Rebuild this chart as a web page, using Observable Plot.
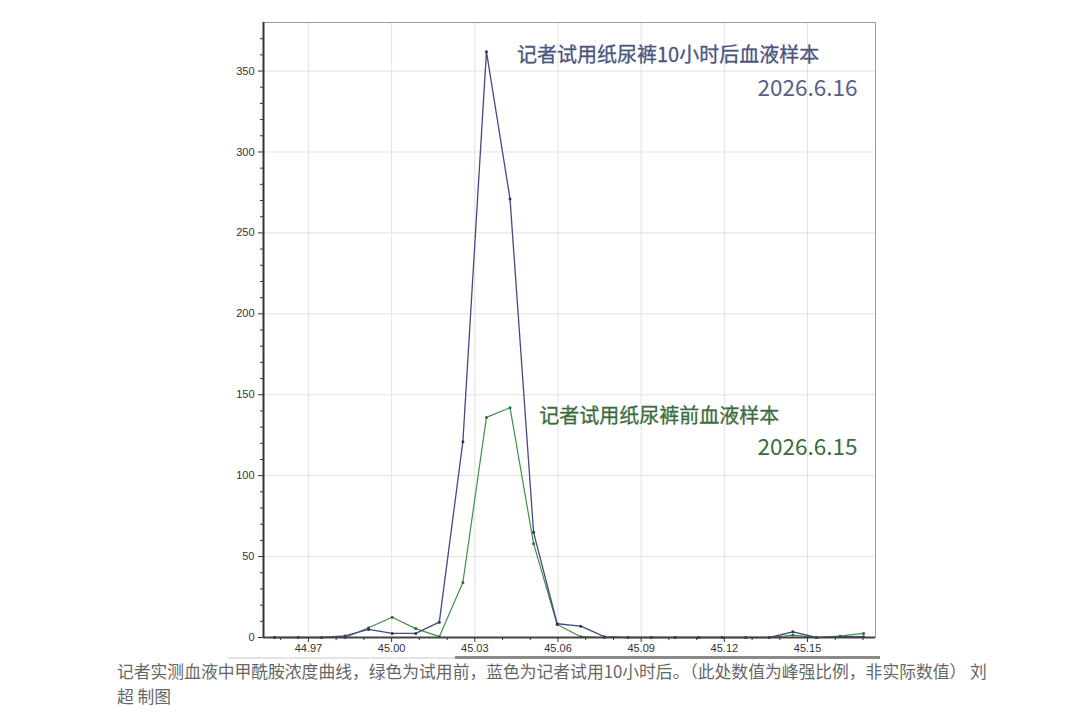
<!DOCTYPE html>
<html>
<head>
<meta charset="utf-8">
<script src="https://cdn.jsdelivr.net/npm/d3@7"></script>
<script src="https://cdn.jsdelivr.net/npm/@observablehq/plot@0.6"></script>
<style>
  html, body { margin: 0; padding: 0; background: #fff; }
  #wrap { position: relative; width: 1080px; height: 716px; overflow: hidden; }
  #chart { position: absolute; left: 0; top: 0; }
  #band { position: absolute; left: 228px; top: 657px; width: 652px; height: 2px; background: #e4e4e4; }
  #bar { position: absolute; left: 455px; top: 656px; width: 425px; height: 3px; background: #8a8a8a; }
  #caption { position: absolute; left: 117px; top: 659px; width: 930px;
    font-family: "Noto Sans CJK SC", "Noto Sans", sans-serif; font-size: 16.8px;
    line-height: 25px; color: #666; white-space: nowrap; }
</style>
</head>
<body>
<div id="wrap">
  <div id="chart"></div>
  <div id="band"></div>
  <div id="bar"></div>
  <div id="caption">记者实测血液中甲酰胺浓度曲线，绿色为试用前，蓝色为记者试用10小时后。（此处数值为峰强比例，非实际数值） 刘<br>超 制图</div>
</div>
<script>
// retention positions (scan points)
const scanX = [44.9578, 44.9663, 44.9748, 44.9832, 44.9917, 45.0002, 45.0087, 45.0172,
  45.0257, 45.0342, 45.0427, 45.0512, 45.0597, 45.0682, 45.0767, 45.0852, 45.0937,
  45.1022, 45.1107, 45.1192, 45.1277, 45.1362, 45.1447, 45.1532, 45.1617, 45.1702];
// after 10 hours (blue)
const afterVals = [0, 0, 0, 1, 5, 2.5, 2.5, 9.5, 121, 362, 271, 65, 8.5, 7, 0.5, 0, 0,
  0, 0, 0, 0, 0, 3.5, 0, 0.5, 0.5];
// before (green)
const beforeVals = [0, 0, 0, 0, 6, 12.5, 5.5, 0.5, 34, 136, 142, 58, 8, 0.5, 0, 0, 0,
  0, 0, 0, 0, 0, 1.5, 0, 0.8, 2.5];

const xMajor = [44.97, 45.00, 45.03, 45.06, 45.09, 45.12, 45.15];
const xMinor = [44.96, 44.98, 44.99, 45.01, 45.02, 45.04, 45.05, 45.07, 45.08, 45.10,
  45.11, 45.13, 45.14, 45.16, 45.17];
const yMajor = [0, 50, 100, 150, 200, 250, 300, 350];
const yMinor = [10, 20, 30, 40, 60, 70, 80, 90, 110, 120, 130, 140, 160, 170, 180, 190,
  210, 220, 230, 240, 260, 270, 280, 290, 310, 320, 330, 340, 360, 370];

const labelAfter = "记者试用纸尿裤10小时后血液样本";
const dateAfter = "2026.6.16";
const labelBefore = "记者试用纸尿裤前血液样本";
const dateBefore = "2026.6.15";

const xDomain = [44.9538, 45.1745];
const yDomain = [0, 380];

const after = scanX.map((x, i) => ({x, y: afterVals[i]}));
const before = scanX.map((x, i) => ({x, y: beforeVals[i]}));

const blue = "#434a84";
const green = "#3f9147";

const chart = Plot.plot({
  width: 1080,
  height: 657,
  marginLeft: 263,
  marginRight: 205,
  marginTop: 22,
  marginBottom: 20,
  x: {domain: xDomain},
  y: {domain: yDomain},
  style: {fontFamily: "'Liberation Sans', Arial, sans-serif", fontSize: "11px", color: "#333", background: "#fff"},
  marks: [
    Plot.gridX(xMajor, {stroke: "#e2e2e2", strokeOpacity: 1}),
    Plot.gridY(yMajor, {stroke: "#e2e2e2", strokeOpacity: 1}),
    Plot.frame({stroke: "#9a9a9a", strokeWidth: 1}),
    Plot.line(before, {x: "x", y: "y", stroke: green, strokeWidth: 1.2}),
    Plot.dot(before, {x: "x", y: "y", r: 1.5, fill: "#2c6b33", stroke: null}),
    Plot.line(after, {x: "x", y: "y", stroke: blue, strokeWidth: 1.3}),
    Plot.dot(after, {x: "x", y: "y", r: 1.5, fill: "#2e3468", stroke: null}),
    Plot.ruleX([xDomain[0]], {stroke: "#333", strokeWidth: 2}),
    Plot.ruleY([0], {stroke: "#444", strokeWidth: 2}),
    Plot.axisX(xMajor, {tickSize: 5, tickPadding: 2, tickFormat: d => d.toFixed(2), label: null, fill: "#333"}),
    Plot.axisX(xMinor, {tickSize: 3, tickFormat: () => "", label: null}),
    Plot.axisY(yMajor, {tickSize: 5, tickPadding: 4, label: null, fill: "#333"}),
    Plot.axisY(yMinor, {tickSize: 3, tickFormat: () => "", label: null}),
    Plot.text([labelAfter], {x: 45.0452, y: 359.5, text: d => d, textAnchor: "start",
      fontSize: 20, fill: "#4a5580", stroke: "#4a5580", strokeWidth: 0.3, fontFamily: "'Noto Sans CJK SC', sans-serif"}),
    Plot.text([dateAfter], {x: 45.1680, y: 339, text: d => d, textAnchor: "end",
      fontSize: 22.5, fill: "#56618a", fontFamily: "'Noto Sans CJK SC', sans-serif"}),
    Plot.text([labelBefore], {x: 45.0532, y: 136.5, text: d => d, textAnchor: "start",
      fontSize: 20, fill: "#3a6c3c", stroke: "#3a6c3c", strokeWidth: 0.3, fontFamily: "'Noto Sans CJK SC', sans-serif"}),
    Plot.text([dateBefore], {x: 45.1680, y: 117.5, text: d => d, textAnchor: "end",
      fontSize: 22.5, fill: "#3a6c3c", fontFamily: "'Noto Sans CJK SC', sans-serif"})
  ]
});
document.getElementById("chart").appendChild(chart);
</script>
</body>
</html>
